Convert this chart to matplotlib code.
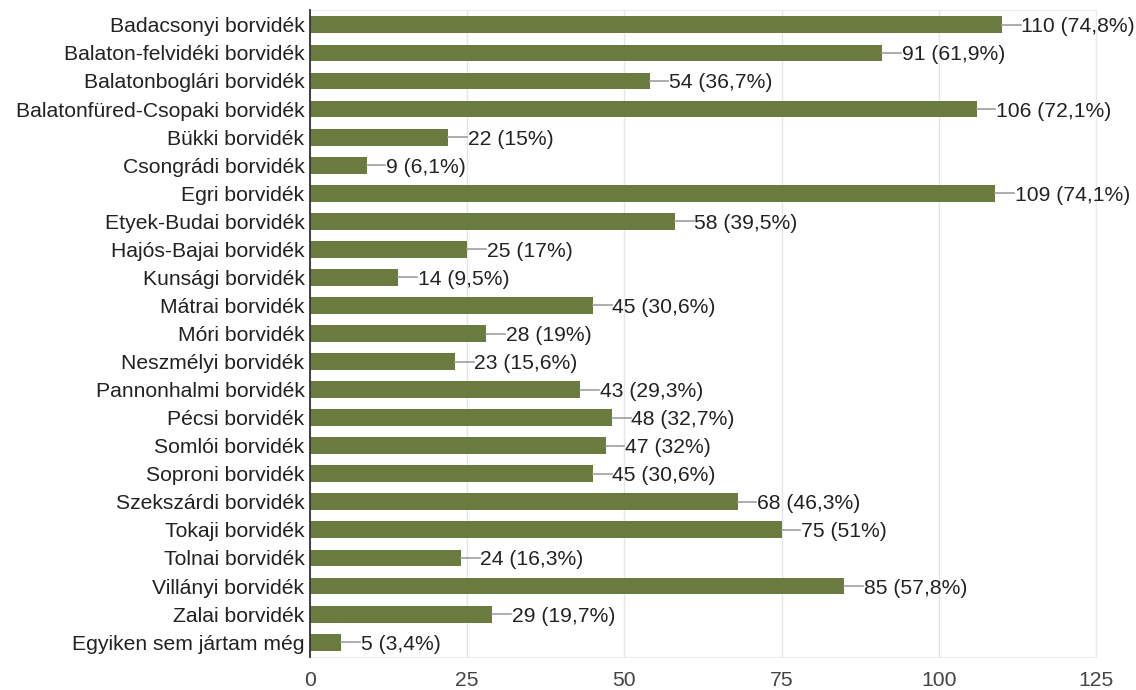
import matplotlib.pyplot as plt

plt.rcParams['font.family'] = ['Liberation Sans', 'DejaVu Sans']

borvidekek = ['Badacsonyi borvidék', 'Balaton-felvidéki borvidék', 'Balatonboglári borvidék',
              'Balatonfüred-Csopaki borvidék', 'Bükki borvidék', 'Csongrádi borvidék',
              'Egri borvidék', 'Etyek-Budai borvidék', 'Hajós-Bajai borvidék',
              'Kunsági borvidék', 'Mátrai borvidék', 'Móri borvidék', 'Neszmélyi borvidék',
              'Pannonhalmi borvidék', 'Pécsi borvidék', 'Somlói borvidék', 'Soproni borvidék',
              'Szekszárdi borvidék', 'Tokaji borvidék', 'Tolnai borvidék', 'Villányi borvidék',
              'Zalai borvidék', 'Egyiken sem jártam még']
szavazat = [110, 91, 54, 106, 22, 9, 109, 58, 25, 14, 45, 28, 23, 43, 48, 47, 45, 68, 75, 24, 85, 29, 5]
szazalek = ['74,8', '61,9', '36,7', '72,1', '15', '6,1', '74,1', '39,5', '17', '9,5', '30,6',
            '19', '15,6', '29,3', '32,7', '32', '30,6', '46,3', '51', '16,3', '57,8', '19,7', '3,4']
x_ticks = [0, 25, 50, 75, 100, 125]

fig = plt.figure(figsize=(11.36, 6.9), dpi=100)
ax = fig.add_axes([0.2729, 0.0478, 0.6919, 0.9377])

y = list(range(len(borvidekek)))
ax.barh(y, szavazat, height=0.6, color='#6b7a3f', zorder=2)

# címke a sáv végén egy rövid szürke vonallal
for i, (v, p) in enumerate(zip(szavazat, szazalek)):
    ax.plot([v, v + 3.0], [i, i], color='#9e9e9e', lw=1.2, zorder=2)
    ax.text(v + 3.1, i, f'{v} ({p}%)', va='center_baseline', ha='left',
            fontsize=15.2, color='#222222')

ax.set_ylim(len(borvidekek) - 0.47, -0.53)
ax.set_xlim(0, 125)
ax.set_yticks(y)
ax.set_yticklabels(borvidekek, fontsize=15.2, color='#222222')
ax.set_xticks(x_ticks)
ax.set_xticklabels([str(t) for t in x_ticks], fontsize=15.2, color='#444444')
ax.tick_params(axis='both', length=0, pad=4)
ax.tick_params(axis='x', pad=10)

ax.grid(axis='x', color='#e6e6e6', lw=1, zorder=0)
ax.spines['left'].set_color('#333333')
ax.spines['left'].set_linewidth(1.3)
ax.spines['left'].set_zorder(3)
for s in ['top', 'right', 'bottom']:
    ax.spines[s].set_color('#ececec')

plt.savefig('out.png', dpi=100)
